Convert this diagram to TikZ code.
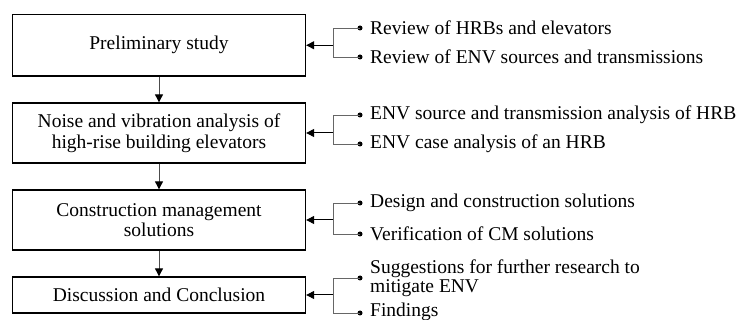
\documentclass[tikz,border=0pt]{standalone}
\usepackage{fontspec}
\setmainfont{Liberation Serif}
\usetikzlibrary{arrows.meta}
\begin{document}
\begin{tikzpicture}[x=1pt,y=-1pt,
  stagebox/.style={draw=black,line width=1.3pt,minimum width=293pt,inner sep=0pt,align=center,
    font=\fontsize{19.5}{20.5}\selectfont},
  itemtext/.style={anchor=west,inner sep=0pt,align=left,font=\fontsize{19.5}{18.5}\selectfont},
  flow/.style={draw=black!70,line width=0.9pt,-{Triangle[length=8pt,width=8pt,color=black]}},
  feed/.style={draw=black,line width=1pt,-{Triangle[length=8pt,width=8pt]}},
  brk/.style={draw=black!60,line width=0.9pt},
  dotm/.style={circle,fill=black,inner sep=0pt,minimum size=5pt}]
\useasboundingbox (0,0) rectangle (739,320);
% stages
\node[stagebox,minimum height=61.5pt] (s1) at (159,45.25) {Preliminary study};
\node[stagebox,minimum height=60pt] (s2) at (159,133) {Noise and vibration analysis of\\high-rise building elevators};
\node[stagebox,minimum height=60pt] (s3) at (159,220) {Construction management\\solutions};
\node[stagebox,minimum height=36pt] (s4) at (159,295) {Discussion and Conclusion};
\draw[flow] (s1) -- (s2);
\draw[flow] (s2) -- (s3);
\draw[flow] (s3) -- (s4);
% brackets
\foreach \s/\yc/\ya/\yb in {1/45.25/28/57, 2/133/115/144, 3/220/203/234, 4/295/278/313}{
  \coordinate (b\s) at (333,\yc);
  \node[dotm] (da\s) at (360,\ya) {};
  \node[dotm] (db\s) at (360,\yb) {};
  \draw[brk] (da\s.center) -| (333,\yb) -- (db\s.center);
  \draw[feed] (b\s) -- (s\s.east);
}
\node[itemtext] (t1a) at (370,28) {Review of HRBs and elevators};
\node[itemtext] (t1b) at (370,57) {Review of ENV sources and transmissions};
\node[itemtext] (t2a) at (370,115) {ENV source and transmission analysis of HRB};
\node[itemtext] (t2b) at (370,144) {ENV case analysis of an HRB};
\node[itemtext] (t3a) at (370,203) {Design and construction solutions};
\node[itemtext] (t3b) at (370,234) {Verification of CM solutions};
\node[itemtext] (t4a) at (370,278) {Suggestions for further research to\\mitigate ENV};
\node[itemtext] (t4b) at (370,312) {Findings};
\end{tikzpicture}
\end{document}
